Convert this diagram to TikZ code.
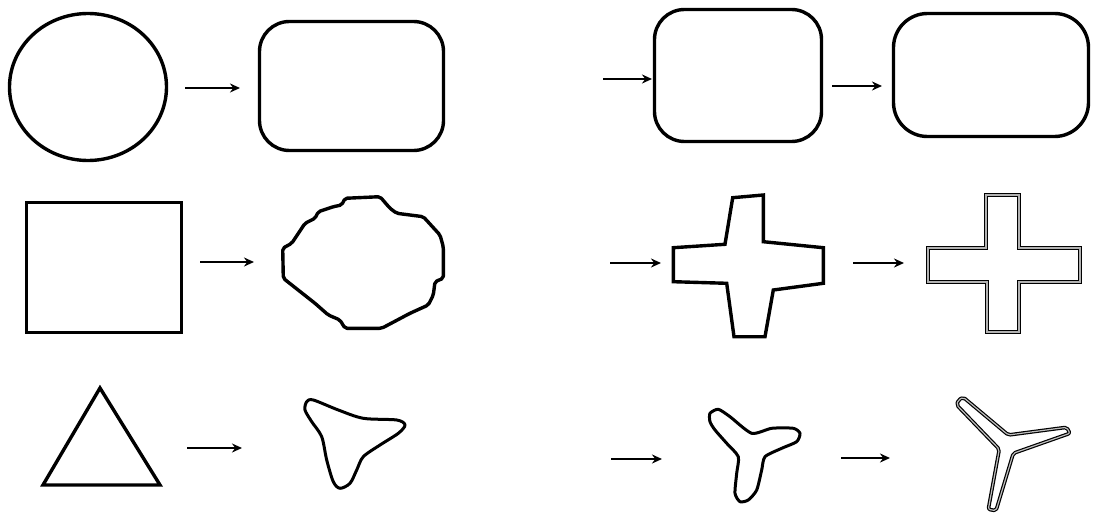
\documentclass[tikz,border=0pt]{standalone}
\usetikzlibrary{shapes.geometric,arrows.meta}
\tikzset{
  shp/.style={draw=black, line width=3.4pt, line join=round},
  rbox/.style={shp, rectangle, rounded corners=30pt, inner sep=0pt},
  sqbox/.style={shp, rectangle, inner sep=0pt, line join=miter},
  ovl/.style={shp, ellipse, inner sep=0pt},
  dbl/.style={draw=black, line width=1.6pt, double=gray!60, double distance=1.2pt, line join=miter},
  thin dbl/.style={draw=black, line width=1.2pt, double=gray!50, double distance=1.2pt, line join=round},
  arr/.style={line width=1.8pt, -{Stealth[length=10pt,width=9pt]}}
}
\begin{document}
\begin{tikzpicture}[x=1pt,y=-1pt]
\useasboundingbox (0,0) rectangle (1093,516);
% ---------- row 1 ----------
\node[ovl, minimum width=157pt, minimum height=147pt] (circ) at (88,87) {};
\node[rbox, minimum width=184pt, minimum height=129pt] (rr1) at (351.5,86) {};
\node[rbox, minimum width=167pt, minimum height=132pt] (rr2) at (738,75.5) {};
\node[rbox, rounded corners=34pt, minimum width=195pt, minimum height=123pt] (rr3) at (991,75) {};
\coordinate (a1s) at (185,88);  \coordinate (a1e) at (240,88);
\coordinate (a2s) at (603,79);  \coordinate (a2e) at (652,79);
\coordinate (a3s) at (832,86);  \coordinate (a3e) at (882,86);
\draw[arr] (a1s) -- (a1e);
\draw[arr] (a2s) -- (a2e);
\draw[arr] (a3s) -- (a3e);
% ---------- row 2 ----------
\node[sqbox, minimum width=155pt, minimum height=130pt] (sq) at (104,267.5) {};
\draw[shp, rounded corners=2pt] (345,198.3) -- (380,196.7) -- (390,208.3) -- (396.7,213.3) -- (423.3,216.7) -- (440,235) -- (443.3,246.7) -- (443.3,278.3) -- (435,281.7) -- (433.3,295) -- (428.3,305) -- (410,313.3) -- (381.7,328.3) -- (345,328.3) -- (340,320) -- (328.3,315) -- (315,303.3) -- (283.3,278.3) -- (282.7,248.3) -- (291.7,243.3) -- (305,223.3) -- (315,218.3) -- (318.3,211.7) -- (333.3,206.7) -- (341.7,205) -- cycle;
\draw[shp, line join=miter] (732.7,197.7) -- (763.3,195) -- (763.3,241.7) -- (823.3,247.7) -- (823.3,283.3) -- (773.3,290) -- (765,336.7) -- (734,336.7) -- (726.7,283.3) -- (673.3,281.7) -- (673.3,247.7) -- (725,244.3) -- cycle;
\draw[dbl] (986,195) -- (1019,195) -- (1019,248) -- (1080,248) -- (1080,282) -- (1019,282) -- (1019,332) -- (987,332) -- (987,282) -- (928,282) -- (928,248) -- (986,248) -- cycle;
\coordinate (b1s) at (200,262);  \coordinate (b1e) at (254,262);
\coordinate (b2s) at (610,263);  \coordinate (b2e) at (661,263);
\coordinate (b3s) at (853,263);  \coordinate (b3e) at (904,263);
\draw[arr] (b1s) -- (b1e);
\draw[arr] (b2s) -- (b2e);
\draw[arr] (b3s) -- (b3e);
% ---------- row 3 ----------
\draw[shp, line join=miter] (100,388) -- (160,485) -- (43,485) -- cycle;
\draw[shp, line width=3pt] plot[smooth cycle, tension=0.5] coordinates {(306.7,401.7) (313.3,400) (338.3,410) (363.3,418.3) (396.7,420) (405,425) (398.3,433.3) (380,445) (363.3,456.7) (356.7,470) (350,483.3) (340,488.3) (333.3,481.7) (326.7,460) (321.7,436.7) (311.7,421.7) (305,410)};
\draw[shp, line width=3pt] plot[smooth cycle, tension=0.4] coordinates {(710,413.3) (718.3,409.3) (730,416.7) (751.7,433.3) (771.7,428.3) (793.3,428.3) (800,433.3) (796.7,441.7) (781.7,448.3) (765,456.7) (761.7,470) (756.7,490) (748.3,500) (740,501.7) (735,493.3) (736.7,473.3) (738.3,456.7) (726.7,443.3) (715,430) (710,421.7)};
\draw[thin dbl, rounded corners=2pt] (958.3,400) -- (963.3,397.3) -- (1008.3,435) -- (1066.7,427.3) -- (1070,433.3) -- (1013.3,453.3) -- (996,510.7) -- (988.3,509.3) -- (999.3,449.3) -- (956.7,405) -- cycle;
\coordinate (c1s) at (187,448);  \coordinate (c1e) at (242,448);
\coordinate (c2s) at (611,459);  \coordinate (c2e) at (662,459);
\coordinate (c3s) at (841,458);  \coordinate (c3e) at (890,458);
\draw[arr] (c1s) -- (c1e);
\draw[arr] (c2s) -- (c2e);
\draw[arr] (c3s) -- (c3e);
\end{tikzpicture}
\end{document}
